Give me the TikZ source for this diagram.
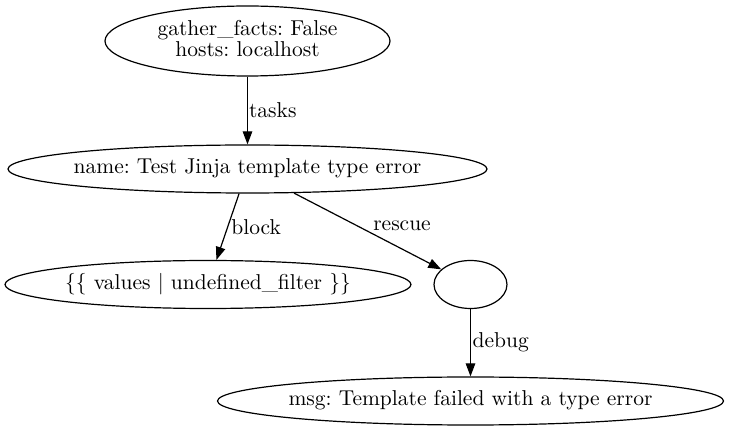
\documentclass[tikz,border=0pt]{standalone}
\usepackage{fontspec}
\setmainfont{lmroman10-regular.otf}
\usetikzlibrary{arrows.meta,shapes.geometric}

\newcommand{\ctext}[1]{\makebox[0pt]{\begin{tabular}{@{}c@{}}#1\end{tabular}}}

\tikzset{
  task/.style={draw, ellipse, line width=1.2pt, inner sep=0pt, font=\fontsize{21.5}{20}\selectfont},
  edgelabel/.style={font=\fontsize{21.5}{20}\selectfont, inner sep=0pt, anchor=west}
}

\frenchspacing
\begin{document}
\begin{tikzpicture}[x=1pt, y=-1pt, >={Triangle[length=13pt,width=9.5pt]}]
 \useasboundingbox (0,0) rectangle (729,430);

 %%%%%%%%%% Noeuds %%%%%%%%%%
 \node[task, minimum width=285pt, minimum height=70pt] (play) at (247.5,41) {\ctext{gather\_facts: False\\hosts: localhost}};
 \node[task, minimum width=479pt, minimum height=48pt] (tache) at (247.5,169) {\ctext{name: Test Jinja template type error}};
 \node[task, minimum width=406pt, minimum height=48pt] (valeur) at (208,284.5) {\ctext{\{\{ values | undefined\_filter \}\}}};
 \node[task, minimum width=73pt, minimum height=48pt] (secours) at (470.5,284.5) {};
 \node[task, minimum width=506pt, minimum height=48pt] (message) at (470.5,401) {\ctext{msg: Template failed with a type error}};

 %%%%%%%%%% Aretes %%%%%%%%%%
 \draw[->, line width=1.2pt] (play) -- (tache) node[midway, edgelabel, xshift=1pt] {tasks};
 \draw[->, line width=1.2pt] (tache) -- (valeur) node[midway, edgelabel, xshift=3pt] {block};
 \draw[->, line width=1.2pt] (tache) -- (secours) node[midway, edgelabel, xshift=5pt, yshift=5pt] {rescue};
 \draw[->, line width=1.2pt] (secours) -- (message) node[midway, edgelabel, xshift=1.5pt] {debug};

\end{tikzpicture}
\end{document}
